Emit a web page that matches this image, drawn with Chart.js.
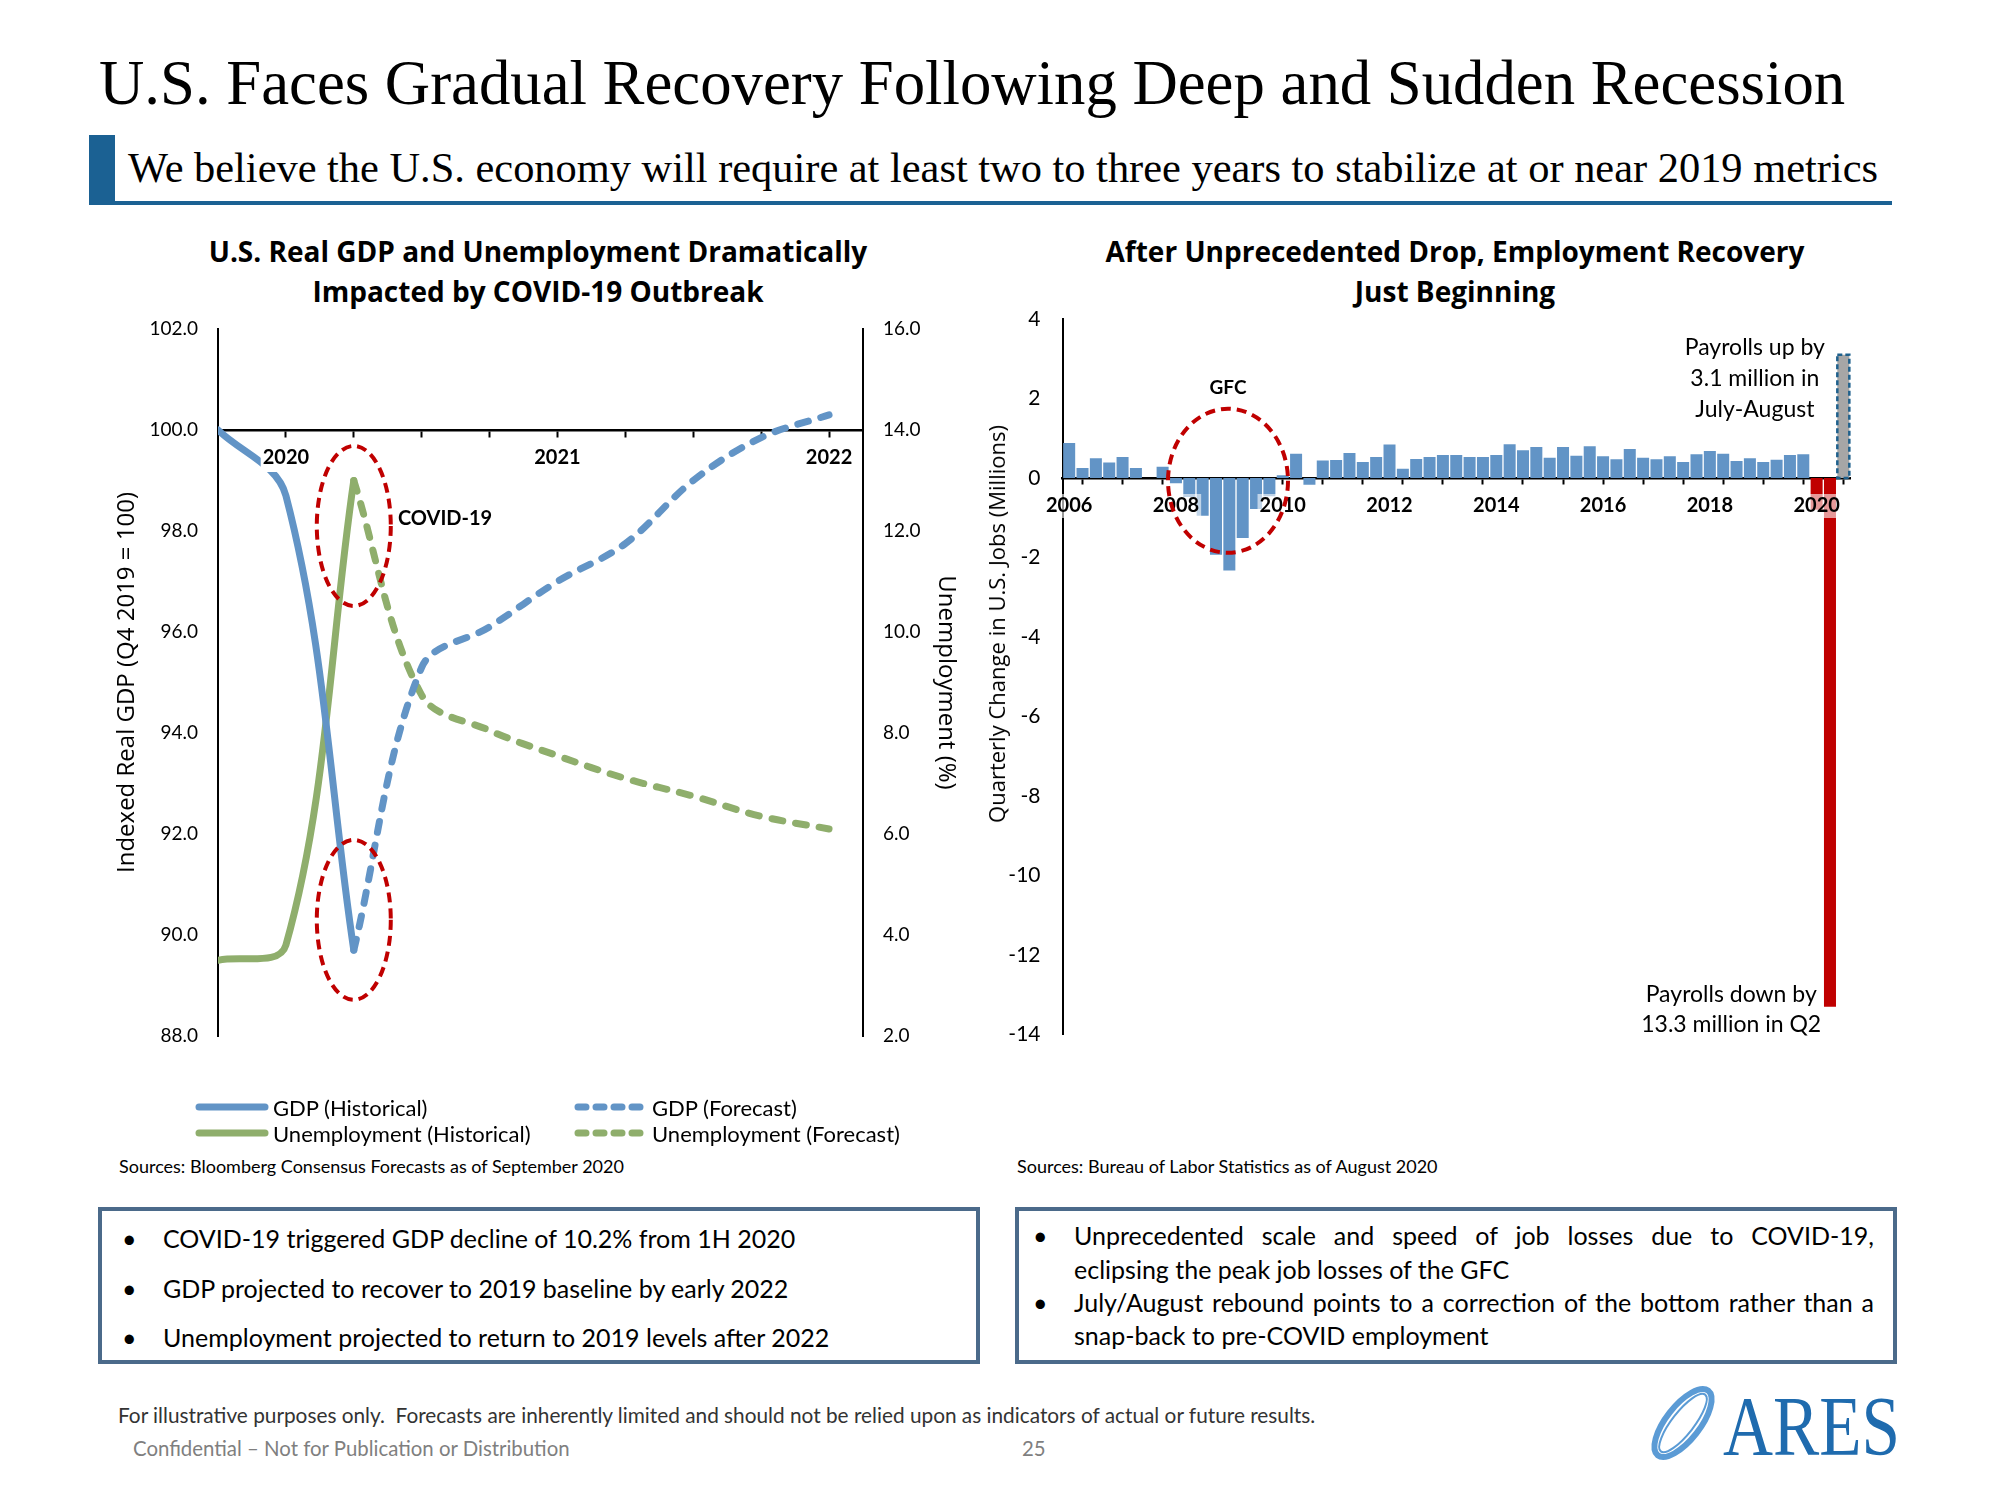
<!DOCTYPE html>
<html>
<head>
<meta charset="utf-8">
<title>U.S. Faces Gradual Recovery Following Deep and Sudden Recession</title>
<script src="https://cdn.jsdelivr.net/npm/chart.js@4.4.1/dist/chart.umd.min.js"></script>
<style>
  body { margin: 0; background: #fff; }
  #page { position: relative; width: 2000px; height: 1500px; overflow: hidden; font-family: Lato, "Open Sans", sans-serif; color: #000; }
  .abs { position: absolute; white-space: nowrap; }
  #title { left: 99px; top: 52px; font-family: "Liberation Serif", serif; font-size: 62px; line-height: 1; }
  #subBar { left: 89px; top: 135px; width: 26px; height: 68px; background: #1B6193; }
  #subLine { left: 89px; top: 201px; width: 1803px; height: 4px; background: #1B6193; }
  #subtitle { left: 128px; top: 147px; font-family: "Liberation Serif", serif; font-size: 38px; line-height: 1; }
  .chartTitle { width: 800px; text-align: center; font-family: "Open Sans", sans-serif; font-weight: 700; font-size: 28px; line-height: 40px; }
  canvas { position: absolute; }
  #payAxisTitle { left: 996px; top: 624px; transform: translate(-50%, -50%) rotate(-90deg); font-family: "Open Sans", sans-serif; font-size: 20px; }
  #gdpLegend { left: 195px; top: 1094px; display: grid; grid-template-columns: 379px auto; }
  .legendItem { display: flex; align-items: center; height: 26px; font-size: 22px; }
  .legendItem svg { margin-right: 4px; }
  .sources { font-size: 18px; line-height: 22px; top: 1155px; }
  .box { position: absolute; box-sizing: border-box; border: 4px solid #4B6A8A; width: 882px; height: 157px; top: 1207px; }
  .item { position: absolute; font-size: 25px; line-height: 32px; white-space: nowrap; }
  .jline { position: absolute; font-size: 25px; line-height: 32px; width: 800px; text-align: justify; text-align-last: justify; }
  .pline { position: absolute; font-size: 25px; line-height: 32px; white-space: nowrap; }
  #note { left: 118px; top: 1404px; font-size: 20.8px; line-height: 22px; color: #333; }
  #conf { left: 133px; top: 1437px; font-size: 20.4px; line-height: 22px; color: #7F7F7F; }
  #pageNo { left: 1022px; top: 1437px; font-size: 20.4px; line-height: 22px; color: #7F7F7F; }
</style>
</head>
<body>
<div id="page">
  <div id="title" class="abs" data-fit="1746">U.S. Faces Gradual Recovery Following Deep and Sudden Recession</div>
  <div id="subBar" class="abs"></div>
  <div id="subLine" class="abs"></div>
  <div id="subtitle" class="abs" data-fit="1750">We believe the U.S. economy will require at least two to three years to stabilize at or near 2019 metrics</div>

  <div class="abs chartTitle" style="left:138px; top:231px;">U.S. Real GDP and Unemployment Dramatically<br>Impacted by COVID-19 Outbreak</div>
  <div class="abs chartTitle" style="left:1055px; top:231px;">After Unprecedented Drop, Employment Recovery<br>Just Beginning</div>

  <canvas id="gdpChart" width="880" height="800" style="left:100px; top:300px;"></canvas>
  <canvas id="payrollChart" width="900" height="760" style="left:1000px; top:300px;"></canvas>
  <div id="payAxisTitle" class="abs" data-fit="398">Quarterly Change in U.S. Jobs (Millions)</div>

  <div id="gdpLegend" class="abs"></div>

  <div class="abs sources" style="left:119px;">Sources: Bloomberg Consensus Forecasts as of September 2020</div>
  <div class="abs sources" style="left:1017px;">Sources: Bureau of Labor Statistics as of August 2020</div>

  <div class="box" style="left:98px;">
    <div class="item" style="left:20px; top:11px;">•</div>
    <div class="item" style="left:61px; top:11px;">COVID-19 triggered GDP decline of 10.2% from 1H 2020</div>
    <div class="item" style="left:20px; top:61px;">•</div>
    <div class="item" style="left:61px; top:61px;">GDP projected to recover to 2019 baseline by early 2022</div>
    <div class="item" style="left:20px; top:110px;">•</div>
    <div class="item" style="left:61px; top:110px;">Unemployment projected to return to 2019 levels after 2022</div>
  </div>
  <div class="box" style="left:1015px;">
    <div class="item" style="left:14px; top:8px;">•</div>
    <div class="jline" style="left:55px; top:8px;">Unprecedented scale and speed of job losses due to COVID-19,</div>
    <div class="pline" style="left:55px; top:42px;">eclipsing the peak job losses of the GFC</div>
    <div class="item" style="left:14px; top:75px;">•</div>
    <div class="jline" style="left:55px; top:75px;">July/August rebound points to a correction of the bottom rather than a</div>
    <div class="pline" style="left:55px; top:108px;">snap-back to pre-COVID employment</div>
  </div>

  <div id="note" class="abs">For illustrative purposes only.&nbsp; Forecasts are inherently limited and should not be relied upon as indicators of actual or future results.</div>
  <div id="conf" class="abs">Confidential – Not for Publication or Distribution</div>
  <div id="pageNo" class="abs">25</div>

  <svg class="abs" style="left:1640px; top:1378px;" width="270" height="90">
    <ellipse cx="43" cy="45" rx="17" ry="41" transform="rotate(38 43 45)" fill="none" stroke="#5B9BD5" stroke-width="6"/>
    <ellipse cx="43" cy="45" rx="36" ry="11" transform="rotate(-52 43 45)" fill="none" stroke="#5B9BD5" stroke-width="2"/>
    <text x="83" y="77" font-family="Liberation Serif" font-size="84" fill="#1F6BAE" textLength="177" lengthAdjust="spacingAndGlyphs">ARES</text>
  </svg>
</div>

<script>
// ---- left chart: real GDP index (left axis) and unemployment rate (right axis), quarterly
const gdpQuarters = ['Q4 2019', 'Q1 2020', 'Q2 2020', 'Q3 2020', 'Q4 2020', 'Q1 2021', 'Q2 2021', 'Q3 2021', 'Q4 2021', 'Q1 2022'];
const gdpYearTicks = ['', '2020', '', '', '', '2021', '', '', '', '2022'];
const gdpHistorical = [100.0, 98.7, 89.7, null, null, null, null, null, null, null];
const gdpForecast = [null, null, 89.7, 95.3, 96.1, 97.0, 97.75, 99.0, 99.85, 100.3];
const unempHistorical = [3.5, 3.8, 13.0, null, null, null, null, null, null, null];
const unempForecast = [null, null, 13.0, 8.75, 8.05, 7.55, 7.1, 6.75, 6.35, 6.1];

// ---- right chart: quarterly change in U.S. payrolls (millions), Q1 2006 .. Q2 2020 + July-August 2020
const payrollQuarters = [];
for (let yr = 2006; yr <= 2020; yr++) {
  for (let q = 1; q <= 4; q++) {
    if (yr === 2020 && q > 2) break;
    payrollQuarters.push('Q' + q + ' ' + yr);
  }
}
payrollQuarters.push('Jul-Aug 2020');
const payrollChange = [
  0.88, 0.25, 0.50, 0.39, 0.53, 0.25, 0.00, 0.28,      // 2006-2007
  -0.13, -0.48, -0.95, -1.93, -2.33, -1.51, -0.78, -0.46, // 2008-2009
  0.07, 0.61, -0.17, 0.44, 0.45, 0.63, 0.40, 0.53,     // 2010-2011
  0.84, 0.23, 0.48, 0.53, 0.58, 0.58, 0.53, 0.53,      // 2012-2013
  0.58, 0.85, 0.70, 0.78, 0.51, 0.78, 0.56, 0.80,      // 2014-2015
  0.55, 0.47, 0.73, 0.51, 0.47, 0.55, 0.40, 0.60,      // 2016-2017
  0.68, 0.61, 0.43, 0.50, 0.40, 0.46, 0.58, 0.60,      // 2018-2019
  -0.80, -13.3,                                        // 2020 H1
  3.1                                                  // July-August 2020
];
const payrollTickYears = ['2006', '2008', '2010', '2012', '2014', '2016', '2018', '2020'];

const BLUE = '#6294C6';
const GREEN = '#8FAE6C';
const RED = '#C00000';
const DASH = [11, 13];

Chart.defaults.color = '#000';
Chart.defaults.font.family = 'Lato';

// fit headline widths to the slide
document.querySelectorAll('[data-fit]').forEach(el => {
  const size = parseFloat(getComputedStyle(el).fontSize);
  el.style.fontSize = (size * (+el.dataset.fit) / el.offsetWidth) + 'px';
});

const toPoints = arr => arr.map((v, i) => ({ x: i, y: v })).filter(p => p.y !== null);

// keep vertical axes from padding the plot area for their end labels
const noEndPadding = w => s => { s.width = w; s.paddingTop = 0; s.paddingBottom = 0; };

const covidMarks = {
  id: 'covidMarks',
  afterDraw(chart) {
    const { ctx, scales: { x, y } } = chart;
    ctx.save();
    ctx.strokeStyle = RED;
    ctx.lineWidth = 4;
    ctx.setLineDash([10, 6]);
    [[2, 98.1], [2, 90.3]].forEach(([q, v]) => {
      ctx.beginPath();
      ctx.ellipse(x.getPixelForValue(q), y.getPixelForValue(v), 37, 80, 0, 0, Math.PI * 2);
      ctx.stroke();
    });
    ctx.setLineDash([]);
    ctx.fillStyle = '#000';
    ctx.font = 'bold 20px Lato';
    ctx.textBaseline = 'middle';
    ctx.fillText('COVID-19', x.getPixelForValue(2.65), y.getPixelForValue(98.25));
    ctx.restore();
  }
};

const gdpChart = new Chart(document.getElementById('gdpChart'), {
  type: 'line',
  data: {
    datasets: [
      { label: 'GDP (Historical)', data: toPoints(gdpHistorical), borderColor: BLUE, yAxisID: 'y' },
      { label: 'GDP (Forecast)', data: toPoints(gdpForecast), borderColor: BLUE, borderDash: DASH, yAxisID: 'y' },
      { label: 'Unemployment (Historical)', data: toPoints(unempHistorical), borderColor: GREEN, yAxisID: 'y1' },
      { label: 'Unemployment (Forecast)', data: toPoints(unempForecast), borderColor: GREEN, borderDash: DASH, yAxisID: 'y1' }
    ]
  },
  options: {
    responsive: false,
    animation: false,
    layout: { padding: { top: 29, bottom: 64, left: 0, right: 0 } },
    elements: {
      line: { borderWidth: 7, tension: 0.35, borderCapStyle: 'round', borderJoinStyle: 'round', fill: false },
      point: { radius: 0, hoverRadius: 0 }
    },
    plugins: { legend: { display: false }, tooltip: { enabled: false } },
    scales: {
      x: {
        type: 'linear',
        min: 0,
        max: 9.5,
        position: { y: 100 },
        afterFit(s) { s.height = 0; },
        afterBuildTicks(s) { s.ticks = s.ticks.filter(t => Number.isInteger(t.value) && t.value >= 1 && t.value <= 9); },
        ticks: {
          stepSize: 1,
          includeBounds: false,
          autoSkip: false,
          maxRotation: 0,
          padding: 10,
          z: 1,
          font: { size: 20, weight: 'bold' },
          callback: v => gdpYearTicks[v] || '',
          showLabelBackdrop: c => !!(c.tick && gdpYearTicks[c.tick.value]),
          backdropColor: '#fff',
          backdropPadding: 2
        },
        grid: { drawOnChartArea: false, drawTicks: true, tickLength: 6, tickWidth: 2, tickColor: '#000' },
        border: { color: '#000', width: 2.5 }
      },
      y: {
        position: 'left',
        min: 88,
        max: 102,
        afterFit: noEndPadding(118),
        ticks: { stepSize: 2, padding: 20, font: { size: 19 }, callback: v => v.toFixed(1) },
        grid: { display: false, drawTicks: false },
        border: { color: '#000', width: 2 },
        title: { display: true, text: 'Indexed Real GDP (Q4 2019 = 100)', font: { family: 'Open Sans', size: 24 }, padding: { top: 13 } }
      },
      y1: {
        position: 'right',
        min: 2,
        max: 16,
        afterFit: noEndPadding(117),
        ticks: { stepSize: 2, padding: 20, font: { size: 19 }, callback: v => v.toFixed(1) },
        grid: { display: false, drawTicks: false },
        border: { color: '#000', width: 2 },
        title: { display: true, text: 'Unemployment (%)', font: { family: 'Open Sans', size: 24 }, padding: { top: 20 } }
      }
    }
  },
  plugins: [covidMarks]
});

// legend in two columns, built from the datasets
const legendEl = document.getElementById('gdpLegend');
gdpChart.data.datasets.forEach(ds => {
  const item = document.createElement('div');
  item.className = 'legendItem';
  const dash = ds.borderDash ? 'stroke-dasharray="8 10"' : '';
  item.innerHTML = '<svg width="74" height="26"><line x1="4" y1="13" x2="70" y2="13" stroke="' + ds.borderColor +
    '" stroke-width="7" stroke-linecap="round" ' + dash + '/></svg><span>' + ds.label + '</span>';
  legendEl.appendChild(item);
});

const covidStart = payrollQuarters.indexOf('Q1 2020');
const partialIndex = payrollQuarters.length - 1;

const payrollMarks = {
  id: 'payrollMarks',
  afterDatasetsDraw(chart) {
    const { ctx } = chart;
    const bar = chart.getDatasetMeta(2).data[partialIndex];
    if (!bar) return;
    const { x, y, base, width } = bar.getProps(['x', 'y', 'base', 'width'], true);
    ctx.save();
    ctx.strokeStyle = '#1F618D';
    ctx.lineWidth = 2.5;
    ctx.setLineDash([5, 3]);
    ctx.strokeRect(x - width / 2, y, width, base - y);
    ctx.restore();
  },
  afterDraw(chart) {
    const { ctx, scales: { x, y } } = chart;
    ctx.save();
    ctx.strokeStyle = RED;
    ctx.lineWidth = 4;
    ctx.setLineDash([10, 6]);
    ctx.beginPath();
    ctx.ellipse(x.getPixelForValue(11.9), y.getPixelForValue(-0.07), 60, 72, 0, 0, Math.PI * 2);
    ctx.stroke();
    ctx.setLineDash([]);
    ctx.fillStyle = '#000';
    ctx.textAlign = 'center';
    ctx.textBaseline = 'middle';
    ctx.font = 'bold 19px Lato';
    ctx.fillText('GFC', x.getPixelForValue(11.9), y.getPixelForValue(2.26));
    ctx.font = '23px Lato';
    const upX = x.getPixelForValue(51.37);
    ctx.fillText('Payrolls up by', upX, y.getPixelForValue(3.27));
    ctx.fillText('3.1 million in', upX, y.getPixelForValue(2.5));
    ctx.fillText('July-August', upX, y.getPixelForValue(1.72));
    const downX = x.getPixelForValue(49.6);
    ctx.fillText('Payrolls down by', downX, y.getPixelForValue(-13.0));
    ctx.fillText('13.3 million in Q2', downX, y.getPixelForValue(-13.75));
    ctx.restore();
  }
};

const yearTickLabel = i => {
  const q = payrollQuarters[i];
  const yr = q.slice(-4);
  return q.startsWith('Q1') && payrollTickYears.includes(yr) ? yr : '';
};

new Chart(document.getElementById('payrollChart'), {
  type: 'bar',
  data: {
    labels: payrollQuarters,
    datasets: [
      { label: 'Quarterly change', data: payrollChange.map((v, i) => i < covidStart ? v : null), backgroundColor: BLUE },
      { label: 'COVID-19', data: payrollChange.map((v, i) => i >= covidStart && i < partialIndex ? v : null), backgroundColor: RED },
      { label: 'July-August', data: payrollChange.map((v, i) => i === partialIndex ? v : null), backgroundColor: '#A6A6A6' }
    ]
  },
  options: {
    responsive: false,
    animation: false,
    datasets: { bar: { grouped: false, barPercentage: 0.9, categoryPercentage: 1 } },
    layout: { padding: { top: 19, bottom: 25.5, left: 0, right: 50 } },
    plugins: { legend: { display: false }, tooltip: { enabled: false } },
    scales: {
      x: {
        position: { y: 0 },
        afterFit(s) { s.height = 0; },
        ticks: {
          autoSkip: false,
          maxRotation: 0,
          padding: 11,
          z: 1,
          font: { size: 20, weight: 'bold' },
          callback: (v, i) => yearTickLabel(i),
          showLabelBackdrop: c => c.index !== undefined && yearTickLabel(c.index) !== '',
          backdropColor: 'rgba(255,255,255,0.6)',
          backdropPadding: { top: 0, bottom: 0, left: 2, right: 2 }
        },
        grid: {
          offset: false,
          drawOnChartArea: false,
          drawTicks: true,
          tickLength: 5,
          tickWidth: 2,
          tickColor: c => c.index % 3 === 1 ? '#000' : 'rgba(0,0,0,0)'
        },
        border: { color: '#000', width: 2.5 }
      },
      y: {
        min: -14,
        max: 4,
        afterFit: noEndPadding(62.5),
        ticks: { stepSize: 2, padding: 22, font: { size: 21 } },
        grid: { display: false, drawTicks: false },
        border: { color: '#000', width: 2 }
      }
    }
  },
  plugins: [payrollMarks]
});
</script>
</body>
</html>
